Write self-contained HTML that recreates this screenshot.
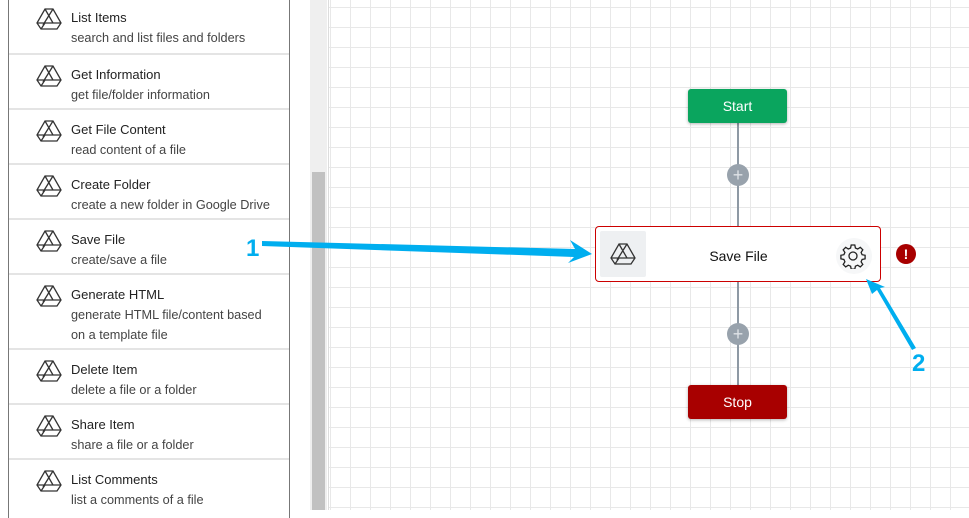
<!DOCTYPE html><html><head><style>
body{margin:0;width:969px;height:510px;overflow:hidden;background:#fff;font-family:"Liberation Sans",sans-serif;position:relative}
.side{position:absolute;left:8px;top:-2px;width:280px;height:520px;border-left:1px solid #777;border-right:1px solid #777;background:#fff}
.it{position:absolute;left:0;width:280px;border-bottom:2px solid #e4e4e4}
.it svg{position:absolute;left:27px;top:9px}
.t{position:absolute;left:62px;top:12px;font-size:13px;color:#222}
.d{position:absolute;left:62px;top:30px;font-size:12.7px;color:#444;line-height:20px;width:215px}
.canvas{position:absolute;left:328px;top:0;width:641px;height:510px;border-left:1px solid #ddd;
background-image:linear-gradient(#e8e8e8 1px,transparent 1px),linear-gradient(90deg,#e8e8e8 1px,transparent 1px);background-size:20px 20px;background-position:-0px 7px,1px 0}
.btn{position:absolute;left:688px;width:99px;height:34px;border-radius:3px;color:#fff;font-size:14px;text-align:center;line-height:34px;box-shadow:0 1px 3px rgba(0,0,0,.3)}
</style></head><body>
<div class="side">
<div class="it" style="top:0;height:55px"><svg width="26" height="24" viewBox="0 0 26 24"><path d="M9 2h8l8 14-4 6H5l-4-6z M9 2l8 14H1 M17 2L7 18 M5 22l4-6h16" fill="none" stroke="#333" stroke-width="1.3"/></svg><div class="t">List Items</div><div class="d">search and list files and folders</div></div>
<div class="it" style="top:57px;height:53px"><svg width="26" height="24" viewBox="0 0 26 24"><path d="M9 2h8l8 14-4 6H5l-4-6z M9 2l8 14H1 M17 2L7 18 M5 22l4-6h16" fill="none" stroke="#333" stroke-width="1.3"/></svg><div class="t">Get Information</div><div class="d">get file/folder information</div></div>
<div class="it" style="top:112px;height:53px"><svg width="26" height="24" viewBox="0 0 26 24"><path d="M9 2h8l8 14-4 6H5l-4-6z M9 2l8 14H1 M17 2L7 18 M5 22l4-6h16" fill="none" stroke="#333" stroke-width="1.3"/></svg><div class="t">Get File Content</div><div class="d">read content of a file</div></div>
<div class="it" style="top:167px;height:53px"><svg width="26" height="24" viewBox="0 0 26 24"><path d="M9 2h8l8 14-4 6H5l-4-6z M9 2l8 14H1 M17 2L7 18 M5 22l4-6h16" fill="none" stroke="#333" stroke-width="1.3"/></svg><div class="t">Create Folder</div><div class="d">create a new folder in Google Drive</div></div>
<div class="it" style="top:222px;height:53px"><svg width="26" height="24" viewBox="0 0 26 24"><path d="M9 2h8l8 14-4 6H5l-4-6z M9 2l8 14H1 M17 2L7 18 M5 22l4-6h16" fill="none" stroke="#333" stroke-width="1.3"/></svg><div class="t">Save File</div><div class="d">create/save a file</div></div>
<div class="it" style="top:277px;height:73px"><svg width="26" height="24" viewBox="0 0 26 24"><path d="M9 2h8l8 14-4 6H5l-4-6z M9 2l8 14H1 M17 2L7 18 M5 22l4-6h16" fill="none" stroke="#333" stroke-width="1.3"/></svg><div class="t">Generate HTML</div><div class="d" style="width:205px">generate HTML file/content based on a template file</div></div>
<div class="it" style="top:352px;height:53px"><svg width="26" height="24" viewBox="0 0 26 24"><path d="M9 2h8l8 14-4 6H5l-4-6z M9 2l8 14H1 M17 2L7 18 M5 22l4-6h16" fill="none" stroke="#333" stroke-width="1.3"/></svg><div class="t">Delete Item</div><div class="d">delete a file or a folder</div></div>
<div class="it" style="top:407px;height:53px"><svg width="26" height="24" viewBox="0 0 26 24"><path d="M9 2h8l8 14-4 6H5l-4-6z M9 2l8 14H1 M17 2L7 18 M5 22l4-6h16" fill="none" stroke="#333" stroke-width="1.3"/></svg><div class="t">Share Item</div><div class="d">share a file or a folder</div></div>
<div class="it" style="top:462px;height:53px;border:none"><svg width="26" height="24" viewBox="0 0 26 24"><path d="M9 2h8l8 14-4 6H5l-4-6z M9 2l8 14H1 M17 2L7 18 M5 22l4-6h16" fill="none" stroke="#333" stroke-width="1.3"/></svg><div class="t">List Comments</div><div class="d">list a comments of a file</div></div>
</div>
<div style="position:absolute;left:310px;top:0;width:17px;height:510px;background:#efefef"></div>
<div style="position:absolute;left:312px;top:172px;width:13px;height:338px;background:#c1c1c1"></div>
<div class="canvas"></div>
<div style="position:absolute;left:737px;top:123px;width:2px;height:262px;background:#8e99a4"></div>
<div style="position:absolute;left:727px;top:164px;width:22px;height:22px;border-radius:50%;background:#98a2ac;color:#dfe3e7;font-size:18px;line-height:22px;text-align:center">+</div>
<div style="position:absolute;left:727px;top:323px;width:22px;height:22px;border-radius:50%;background:#98a2ac;color:#dfe3e7;font-size:18px;line-height:22px;text-align:center">+</div>
<div class="btn" style="top:89px;background:#0aa55e">Start</div>
<div class="btn" style="top:385px;background:#a80000">Stop</div>
<div style="position:absolute;left:595px;top:226px;width:284px;height:54px;border:1px solid #c00;border-radius:4px;background:#fff"></div>
<div style="position:absolute;left:600px;top:231px;width:46px;height:46px;background:#eef0f2;border-radius:2px"><svg style="position:absolute;left:10px;top:11px" width="26" height="24" viewBox="0 0 26 24"><path d="M9 2h8l8 14-4 6H5l-4-6z M9 2l8 14H1 M17 2L7 18 M5 22l4-6h16" fill="none" stroke="#333" stroke-width="1.3"/></svg></div>
<div style="position:absolute;left:646px;top:248px;width:185px;text-align:center;font-size:14px;color:#111">Save File</div>
<div style="position:absolute;left:836px;top:238px;width:36px;height:36px;border-radius:50%;background:#f6f7f8"></div>
<svg style="position:absolute;left:840px;top:243px" width="26" height="26" viewBox="-13 -13 26 26"><path d="M-1.8-11h3.6l.6 3 2.3 1 2.6-1.7 2.5 2.5-1.7 2.6 1 2.3 3 .6v3.6l-3 .6-1 2.3 1.7 2.6-2.5 2.5-2.6-1.7-2.3 1-.6 3h-3.6l-.6-3-2.3-1-2.6 1.7-2.5-2.5 1.7-2.6-1-2.3-3-.6v-3.6l3-.6 1-2.3-1.7-2.6 2.5-2.5 2.6 1.7 2.3-1z" fill="none" stroke="#222" stroke-width="1.3"/><circle r="4" fill="none" stroke="#222" stroke-width="1.3"/></svg>
<div style="position:absolute;left:896px;top:244px;width:20px;height:20px;border-radius:50%;background:#a80000;color:#fff;font-size:14px;font-weight:bold;text-align:center;line-height:20px">!</div>
<svg style="position:absolute;left:0;top:0" width="969" height="510">
<polygon points="262,241 575,249 570,240 592,254 568,263 574,257 262,246" fill="#00aeef"/>
<polygon points="912,350 877,290 872,294 866,279 885,287 880,288 916,348" fill="#00aeef"/>
<text x="246" y="256" font-family="Liberation Sans" font-weight="bold" font-size="24" fill="#00aeef">1</text>
<text x="912" y="371" font-family="Liberation Sans" font-weight="bold" font-size="24" fill="#00aeef">2</text>
</svg>
</body></html>
